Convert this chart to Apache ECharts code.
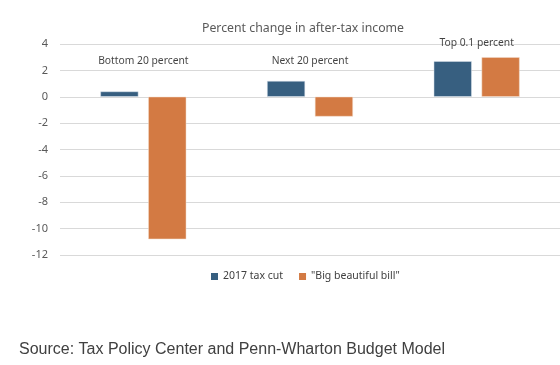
<!DOCTYPE html>
<html><head><meta charset="utf-8">
<script src="https://cdn.jsdelivr.net/npm/echarts@6/dist/echarts.min.js"></script>
<style>html,body{margin:0;padding:0;background:#fff}#c{width:560px;height:365px}</style>
</head><body><div id="c"></div>
<script>
const categories = ['Bottom 20 percent', 'Next 20 percent', 'Top 0.1 percent'];
const taxCut2017 = [0.4, 1.2, 2.7];
const bigBill = [-10.8, -1.5, 3.0];
const groupLabelY = [2.7, 2.7, 4.1];
const yTicks = [4, 2, 0, -2, -4, -6, -8, -10, -12];

const chart = echarts.init(document.getElementById('c'), null, {renderer: 'canvas'});
const ff = '"Noto Sans", sans-serif';
chart.setOption({
  animation: false,
  title: [{
    text: 'Percent change in after-tax income', left: 298, top: 17, textAlign: 'center',
    textStyle: {fontFamily: ff, fontSize: 12.3, fontWeight: 'normal', color: '#595959'}
  }, {
    text: 'Source: Tax Policy Center and Penn-Wharton Budget Model', left: 14, top: 337,
    textStyle: {fontFamily: '"Liberation Sans", Arial, sans-serif', fontSize: 16, fontWeight: 'normal', color: '#404040'}
  }],
  legend: {
    data: ['2017 tax cut', '"Big beautiful bill"'], top: 266, left: 206,
    itemWidth: 7, itemHeight: 7, itemGap: 16, icon: 'rect',
    itemStyle: {borderWidth: 0},
    textStyle: {fontFamily: ff, fontSize: 10.5, color: '#404040'}
  },
  grid: {left: 60, right: 0, top: 44, height: 211},
  xAxis: {
    type: 'category', data: categories,
    axisLine: {show: false}, axisTick: {show: false}, axisLabel: {show: false}
  },
  yAxis: {
    type: 'value', min: Math.min(...yTicks), max: Math.max(...yTicks), interval: 2,
    axisLabel: {fontFamily: ff, fontSize: 11, color: '#595959', margin: 12},
    splitLine: {lineStyle: {color: '#d9d9d9'}},
    axisLine: {show: false}, axisTick: {show: false}
  },
  series: [{
    name: '2017 tax cut', type: 'bar', data: taxCut2017, barWidth: 38, barGap: '26%',
    itemStyle: {color: '#375F80', borderColor: '#dfe6ee', borderWidth: 0.5}
  }, {
    name: '"Big beautiful bill"', type: 'bar', data: bigBill, barWidth: 38,
    itemStyle: {color: '#D37A43', borderColor: '#f3dccd', borderWidth: 0.5}
  }, {
    name: 'labels', type: 'scatter', data: groupLabelY, symbolSize: 0, silent: true, clip: false,
    label: {show: true, position: 'inside', formatter: p => categories[p.dataIndex],
      fontFamily: ff, fontSize: 10.3, color: '#111'}
  }]
});
</script></body></html>
